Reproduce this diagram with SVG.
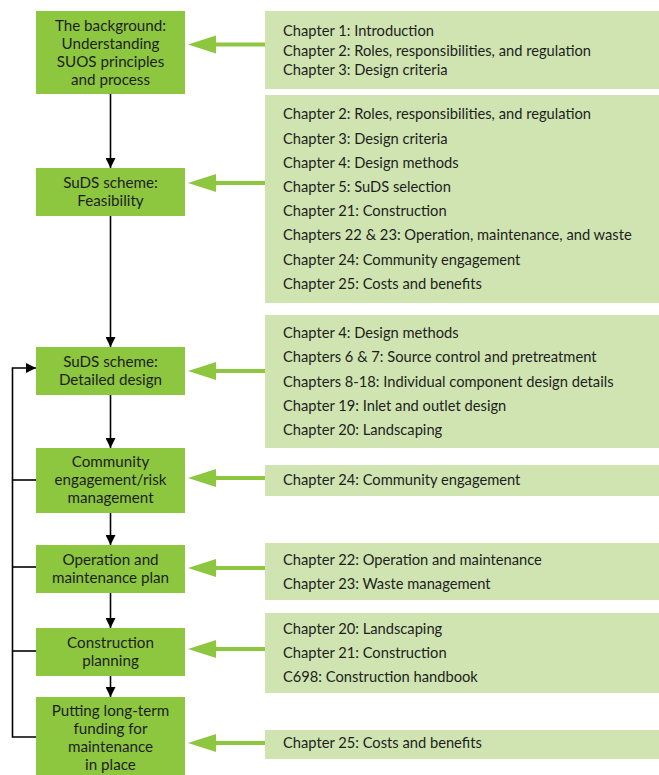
<svg xmlns="http://www.w3.org/2000/svg" width="659" height="775" viewBox="0 0 659 775">
<style>
.node{fill:#8dc63f}
.ref{fill:#cfe4b0}
.nt{font-family:Lato,"Open Sans","Liberation Sans",sans-serif;font-size:15.2px;fill:#1e1e1e;text-anchor:middle}
.rt{font-family:Lato,"Open Sans","Liberation Sans",sans-serif;font-size:14.7px;fill:#1e1e1e}
.blk{stroke:#000;stroke-width:1.6;fill:none}
.grn{stroke:#8dc63f;stroke-width:4;fill:none}
</style>
<defs>
<marker id="ah" markerWidth="10" markerHeight="10" refX="10" refY="5" orient="auto" markerUnits="userSpaceOnUse">
<path d="M0,0 L10,5 L0,10 Z" fill="#000"/>
</marker>
</defs>
<rect width="659" height="775" fill="#fff"/>
<g id="connectors">
<line class="blk" x1="110.5" y1="94" x2="110.5" y2="168" marker-end="url(#ah)"/>
<line class="blk" x1="110.5" y1="216" x2="110.5" y2="347" marker-end="url(#ah)"/>
<line class="blk" x1="110.5" y1="395" x2="110.5" y2="448" marker-end="url(#ah)"/>
<line class="blk" x1="110.5" y1="513" x2="110.5" y2="545" marker-end="url(#ah)"/>
<line class="blk" x1="110.5" y1="593" x2="110.5" y2="628" marker-end="url(#ah)"/>
<line class="blk" x1="110.5" y1="676" x2="110.5" y2="697" marker-end="url(#ah)"/>
<path class="blk" d="M36,737 H12.5 V368 H36" marker-end="url(#ah)"/>
<line class="blk" x1="12.5" y1="480" x2="36" y2="480"/>
<line class="blk" x1="12.5" y1="567" x2="36" y2="567"/>
<line class="blk" x1="12.5" y1="651" x2="36" y2="651"/>
<g fill="#8dc63f">
<line class="grn" x1="215" y1="44.5" x2="265" y2="44.5"/><path d="M188,44.5 L216,35.5 L216,53.5 Z"/>
<line class="grn" x1="215" y1="183" x2="265" y2="183"/><path d="M188,183 L216,174 L216,192 Z"/>
<line class="grn" x1="215" y1="371" x2="265" y2="371"/><path d="M188,371 L216,362 L216,380 Z"/>
<line class="grn" x1="215" y1="478" x2="265" y2="478"/><path d="M188,478 L216,469 L216,487 Z"/>
<line class="grn" x1="215" y1="568" x2="265" y2="568"/><path d="M188,568 L216,559 L216,577 Z"/>
<line class="grn" x1="215" y1="649" x2="265" y2="649"/><path d="M188,649 L216,640 L216,658 Z"/>
<line class="grn" x1="215" y1="743" x2="265" y2="743"/><path d="M188,743 L216,734 L216,752 Z"/>
</g>
</g>
<g id="n1"><rect class="node" x="36" y="11" width="149" height="83"/>
<text class="nt" x="110.5" y="31">The background:</text><text class="nt" x="110.5" y="49">Understanding</text><text class="nt" x="110.5" y="67">SUOS principles</text><text class="nt" x="110.5" y="85">and process</text></g>
<g id="n2"><rect class="node" x="36" y="168" width="149" height="48"/>
<text class="nt" x="110.5" y="188">SuDS scheme:</text><text class="nt" x="110.5" y="206">Feasibility</text></g>
<g id="n3"><rect class="node" x="36" y="347" width="149" height="48"/>
<text class="nt" x="110.5" y="367">SuDS scheme:</text><text class="nt" x="110.5" y="385">Detailed design</text></g>
<g id="n4"><rect class="node" x="36" y="448" width="149" height="65"/>
<text class="nt" x="110.5" y="467">Community</text><text class="nt" x="110.5" y="485">engagement/risk</text><text class="nt" x="110.5" y="503">management</text></g>
<g id="n5"><rect class="node" x="36" y="545" width="149" height="48"/>
<text class="nt" x="110.5" y="565">Operation and</text><text class="nt" x="110.5" y="583">maintenance plan</text></g>
<g id="n6"><rect class="node" x="36" y="628" width="149" height="48"/>
<text class="nt" x="110.5" y="648">Construction</text><text class="nt" x="110.5" y="666">planning</text></g>
<g id="n7"><rect class="node" x="36" y="697" width="149" height="78"/>
<text class="nt" x="110.5" y="716">Putting long-term</text><text class="nt" x="110.5" y="734">funding for</text><text class="nt" x="110.5" y="752">maintenance</text><text class="nt" x="110.5" y="770">in place</text></g>
<g id="r1"><rect class="ref" x="265" y="11" width="394" height="78"/>
<text class="rt" x="283" y="36">Chapter 1: Introduction</text><text class="rt" x="283" y="56">Chapter 2: Roles, responsibilities, and regulation</text><text class="rt" x="283" y="75">Chapter 3: Design criteria</text></g>
<g id="r2"><rect class="ref" x="265" y="95" width="394" height="208"/>
<text class="rt" x="283" y="119">Chapter 2: Roles, responsibilities, and regulation</text>
<text class="rt" x="283" y="144">Chapter 3: Design criteria</text>
<text class="rt" x="283" y="168">Chapter 4: Design methods</text>
<text class="rt" x="283" y="192">Chapter 5: SuDS selection</text>
<text class="rt" x="283" y="216">Chapter 21: Construction</text>
<text class="rt" x="283" y="240">Chapters 22 &amp; 23: Operation, maintenance, and waste</text>
<text class="rt" x="283" y="265">Chapter 24: Community engagement</text>
<text class="rt" x="283" y="289">Chapter 25: Costs and benefits</text></g>
<g id="r3"><rect class="ref" x="265" y="315" width="394" height="133"/>
<text class="rt" x="283" y="338">Chapter 4: Design methods</text>
<text class="rt" x="283" y="362">Chapters 6 &amp; 7: Source control and pretreatment</text>
<text class="rt" x="283" y="387">Chapters 8-18: Individual component design details</text>
<text class="rt" x="283" y="411">Chapter 19: Inlet and outlet design</text>
<text class="rt" x="283" y="435">Chapter 20: Landscaping</text></g>
<g id="r4"><rect class="ref" x="265" y="465" width="394" height="31"/>
<text class="rt" x="283" y="485">Chapter 24: Community engagement</text></g>
<g id="r5"><rect class="ref" x="265" y="543" width="394" height="57"/>
<text class="rt" x="283" y="565">Chapter 22: Operation and maintenance</text>
<text class="rt" x="283" y="589">Chapter 23: Waste management</text></g>
<g id="r6"><rect class="ref" x="265" y="613" width="394" height="80"/>
<text class="rt" x="283" y="634">Chapter 20: Landscaping</text>
<text class="rt" x="283" y="658">Chapter 21: Construction</text>
<text class="rt" x="283" y="682">C698: Construction handbook</text></g>
<g id="r7"><rect class="ref" x="265" y="730" width="394" height="29"/>
<text class="rt" x="283" y="748">Chapter 25: Costs and benefits</text></g>
</svg>
